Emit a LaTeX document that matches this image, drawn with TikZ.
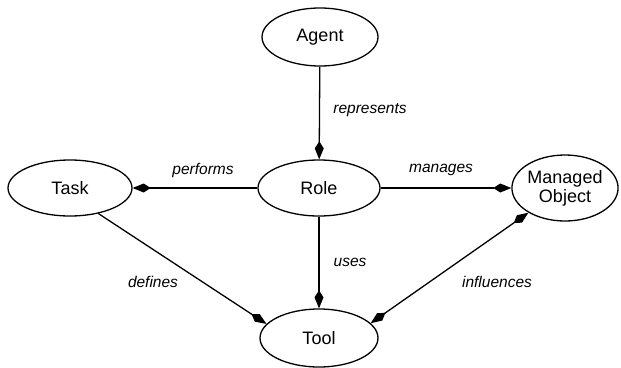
\documentclass[tikz,border=0pt]{standalone}
\usepackage{fontspec}
\setmainfont{Liberation Sans}
\usetikzlibrary{shapes.geometric,arrows.meta}
\begin{document}
\begin{tikzpicture}[x=1pt,y=-1pt,
  concept/.style={ellipse,draw,line width=1.3pt,inner sep=0pt,align=center,
    font=\fontsize{18}{19}\selectfont},
  head/.style={Kite[length=18pt,width=9pt,inset=7pt]},
  rel/.style={line width=1.3pt,-{Kite[length=18pt,width=9pt,inset=7pt]}},
  birel/.style={line width=1.3pt,{Kite[length=18pt,width=9pt,inset=7pt]}-{Kite[length=18pt,width=9pt,inset=7pt]}},
  lbl/.style={font=\fontsize{15.5}{15.5}\selectfont\itshape,inner sep=0pt}]
\useasboundingbox (0,0) rectangle (621,367);
% concepts
\node[concept,minimum width=116pt,minimum height=58pt] (agent) at (320,37) {Agent};
\node[concept,minimum width=122pt,minimum height=56pt] (role) at (319,188) {Role};
\node[concept,minimum width=124pt,minimum height=56pt] (task) at (70,188) {Task};
\node[concept,minimum width=104pt,minimum height=66pt] (obj) at (565,188) {Managed\\Object};
\node[concept,minimum width=118pt,minimum height=58pt] (tool) at (319,338) {Tool};
% relations
\draw[rel] (agent) -- (role);
\draw[rel] (role) -- (task);
\draw[rel] (role) -- (obj);
\draw[rel] (role) -- (tool);
\draw[rel] (task.-42) -- (tool.165);
\draw[birel] (obj.214) -- (tool.16);
% relation labels
\node[lbl] (l1) at (370,110) {represents};
\node[lbl] (l2) at (203,170) {performs};
\node[lbl] (l3) at (441,170) {manages};
\node[lbl] (l4) at (350,262) {uses};
\node[lbl] (l5) at (153,282) {defines};
\node[lbl] (l6) at (497,282) {influences};
\end{tikzpicture}
\end{document}
